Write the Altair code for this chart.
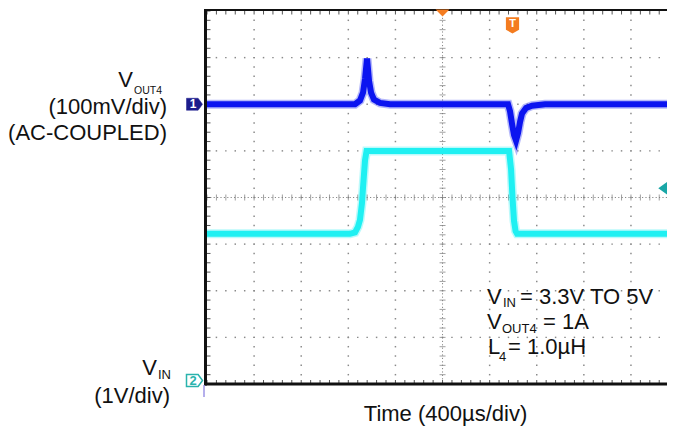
import altair as alt
import pandas as pd
import numpy as np

# ---- Trace data ----
# Channel 1: V_OUT4, AC-coupled, mV (100 mV/div), ground marker at +2 div
ch1_time_us = [0, 1257, 1299, 1325, 1342, 1359, 1376, 1393, 1418, 1469, 1554,
               2556, 2573, 2590, 2607, 2624, 2641, 2658, 2675, 2709, 2760, 2871, 3906]
ch1_mv = [0, 0, 8, 25, 55, 98, 50, 25, 10, 3, 0,
          0, -15, -42, -66, -78, -62, -38, -20, -8, -3, 0, 0]

# Channel 2: V_IN, V (1 V/div), ground marker at -4 div
ch2_time_us = [0, 1214, 1257, 1282, 1299, 1316, 1325, 1342, 1355,
               2565, 2582, 2594, 2607, 2620, 2633, 3906]
ch2_v = [3.22, 3.22, 3.25, 3.37, 3.52, 3.88, 4.22, 4.80, 5.00,
         5.00, 4.60, 4.00, 3.50, 3.28, 3.22, 3.22]

TIME_PER_DIV = 400          # µs/div
X_MAX = 3906                # visible part of the 10-div screen
W, H = 460, 373

ch1 = pd.DataFrame({"t": ch1_time_us, "mv": ch1_mv})
ch2 = pd.DataFrame({"t": ch2_time_us, "v": ch2_v})

xs = alt.Scale(domain=[0, X_MAX], nice=False, zero=False)
ys = alt.Scale(domain=[-4, 4], nice=False, zero=False)

# ---- graticule structure ----
major_x = [TIME_PER_DIV * k for k in range(1, 10) if k != 5]
major_y = [k for k in range(-3, 4) if k != 0]
minor_x = [TIME_PER_DIV * k / 5 for k in range(0, 51) if TIME_PER_DIV * k / 5 <= X_MAX]
minor_y = [k / 5 for k in range(-20, 21)]

dots = pd.DataFrame(
    [{"x": mx, "y": my} for mx in major_x for my in minor_y[1:-1]] +
    [{"x": mx, "y": my} for my in major_y for mx in minor_x[1:]]
)
gx = pd.DataFrame({"x": minor_x, "y": [0] * len(minor_x)})
gy = pd.DataFrame({"y": minor_y, "x": [2000] * len(minor_y)})

GRID = "#8a8a8a"

X = lambda f="x": alt.X(f"{f}:Q", scale=xs, axis=None)
Y = lambda f="y": alt.Y(f"{f}:Q", scale=ys, axis=None)

dot_layer = alt.Chart(dots).mark_square(size=2.2, color=GRID, opacity=1).encode(x=X(), y=Y())

center_h = alt.Chart(pd.DataFrame({"y": [0]})).mark_rule(
    color=GRID, strokeWidth=1, strokeDash=[1.2, 2.2]).encode(y=Y())
center_v = alt.Chart(pd.DataFrame({"x": [2000]})).mark_rule(
    color=GRID, strokeWidth=1, strokeDash=[1.2, 2.2]).encode(x=X())

ticks_h = alt.Chart(gx).mark_tick(orient="vertical", size=6, thickness=1, color="#777").encode(
    x=X(), y=Y())
ticks_v = alt.Chart(gy).mark_tick(orient="horizontal", size=6, thickness=1, color="#777").encode(
    x=X(), y=Y())

top_ticks = alt.Chart(gx).mark_rule(color="#555", strokeWidth=1).encode(
    x=X(), y=alt.value(0), y2=alt.value(3.5))
bot_ticks = alt.Chart(gx).mark_rule(color="#555", strokeWidth=1).encode(
    x=X(), y=alt.value(H - 4), y2=alt.value(H))
left_ticks = alt.Chart(gy).mark_rule(color="#555", strokeWidth=1).encode(
    y=Y(), x=alt.value(0), x2=alt.value(3.5))

one = pd.DataFrame({"a": [1]})

border_left = alt.Chart(one).mark_rule(color="#111", strokeWidth=3).encode(
    x=alt.value(-1.5), y=alt.value(-2), y2=alt.value(H + 1.5))
border_bottom = alt.Chart(one).mark_rule(color="#111", strokeWidth=3).encode(
    x=alt.value(-3), x2=alt.value(W), y=alt.value(H))
border_top = alt.Chart(one).mark_rule(color="#111", strokeWidth=2).encode(
    x=alt.value(-3), x2=alt.value(W), y=alt.value(-1))

# ---- traces ----
BLUE = "#0b14f0"
CYAN = "#1ff0f2"

ch2_base = alt.Chart(ch2).transform_calculate(d="datum.v - 4").encode(x=X("t"), y=Y("d"))
ch2_halo = ch2_base.mark_line(color=CYAN, strokeWidth=9, opacity=0.3)
ch2_line = ch2_base.mark_line(color=CYAN, strokeWidth=6)

ch1_base = alt.Chart(ch1).transform_calculate(d="datum.mv / 100 + 2").encode(x=X("t"), y=Y("d"))
ch1_halo = ch1_base.mark_line(color=BLUE, strokeWidth=9, opacity=0.3)
ch1_line = ch1_base.mark_line(color=BLUE, strokeWidth=6)

# ---- scope markers ----
PENT = "M-1,-0.75 L0.45,-0.75 L1,0 L0.45,0.75 L-1,0.75 Z"
m1 = alt.Chart(one).mark_point(shape=PENT, size=256, filled=True, fill="#1c1c8c",
                               stroke="#1c1c8c", strokeWidth=0.5, opacity=1).encode(
    x=alt.value(-12.5), y=alt.value(H / 2 - 2 * H / 8))
m1t = alt.Chart(one).mark_text(text="1", color="white", fontWeight="bold", fontSize=12,
                               font="Liberation Sans", align="center", baseline="middle").encode(
    x=alt.value(-14), y=alt.value(H / 2 - 2 * H / 8))
m2 = alt.Chart(one).mark_point(shape=PENT, size=256, filled=True, fill="white",
                               stroke="#2ab3ad", strokeWidth=1.5, opacity=1).encode(
    x=alt.value(-12.5), y=alt.value(H - 3.5))
m2t = alt.Chart(one).mark_text(text="2", color="#2ab3ad", fontWeight="bold", fontSize=13,
                               font="Liberation Sans", align="center", baseline="middle").encode(
    x=alt.value(-14), y=alt.value(H - 3))
purple = alt.Chart(one).mark_rule(color="#9d95e6", strokeWidth=1.5).encode(
    x=alt.value(-3), y=alt.value(H + 1), y2=alt.value(H + 13))

SHIELD = "M-0.8,-1 L0.8,-1 L0.8,0.55 L0,1 L-0.8,0.55 Z"
trig = alt.Chart(one).mark_point(shape=SHIELD, size=196, filled=True, fill="#f47c20",
                                 stroke="#f47c20", opacity=1).encode(
    x=alt.value(305.5), y=alt.value(14.3))
trigt = alt.Chart(one).mark_text(text="T", color="white", fontWeight="bold", fontSize=11,
                                 font="Liberation Sans", align="center", baseline="middle").encode(
    x=alt.value(305.5), y=alt.value(13.3))
TRI_DOWN = "M-1,-0.5 L1,-0.5 L0,0.5 Z"
trig_pos = alt.Chart(one).mark_point(shape=TRI_DOWN, size=81, filled=True, fill="#f47c20",
                                     stroke="#f47c20", opacity=1).encode(
    x=alt.value(W * 2000 / X_MAX), y=alt.value(1.8))
TRI_LEFT = "M0.4,-1 L0.4,1 L-1,0 Z"
trig_lvl = alt.Chart(one).mark_point(shape=TRI_LEFT, size=100, filled=True, fill="#1aa7a7",
                                     stroke="#1aa7a7", opacity=1).encode(
    x=alt.value(W - 2), y=alt.value(177.3))

# ---- text ----
FONT = "Liberation Sans"


def txt(s, x, y, size=22, align="left"):
    return alt.Chart(one).mark_text(text=s, font=FONT, fontSize=size, color="#111",
                                    align=align, baseline="alphabetic").encode(
        x=alt.value(x), y=alt.value(y))


texts = [
    txt("V", -74, 76.3, align="right"), txt("OUT4", -73, 82.5, size=10.5),
    txt("(100mV/div)", -40, 103.3, align="right"),
    txt("(AC-COUPLED)", -40, 129.3, align="right"),
    txt("V", -50, 364.3, align="right"), txt("IN", -49, 368.3, size=13),
    txt("(1V/div)", -37, 392.3, align="right"),
    txt("Time (400µs/div)", 238.5, 410.3, align="center"),
    txt("V", 280, 292.6), txt("IN", 296, 296.3, size=13), txt("= 3.3V TO 5V", 313, 292.6),
    txt("V", 280, 318.3), txt("OUT4", 295, 322, size=13), txt("= 1A", 336, 318.3),
    txt("L", 281, 343.3), txt("4", 292, 350, size=13), txt("= 1.0µH", 301, 343.3),
]

chart = alt.layer(
    dot_layer, center_h, center_v, ticks_h, ticks_v, top_ticks, bot_ticks, left_ticks,
    ch2_halo, ch2_line, ch1_halo, ch1_line,
    border_left, border_bottom, border_top,
    m1, m1t, m2, m2t, purple, trig, trigt, trig_pos, trig_lvl,
    *texts
).properties(
    width=W, height=H,
    autosize=alt.AutoSizeParams(type="none"),
    padding={"left": 199, "top": 3, "right": 0, "bottom": 45},
    background="white",
).configure_view(stroke=None)

chart.save("out.html", embed_options={"renderer": "svg", "actions": False})
